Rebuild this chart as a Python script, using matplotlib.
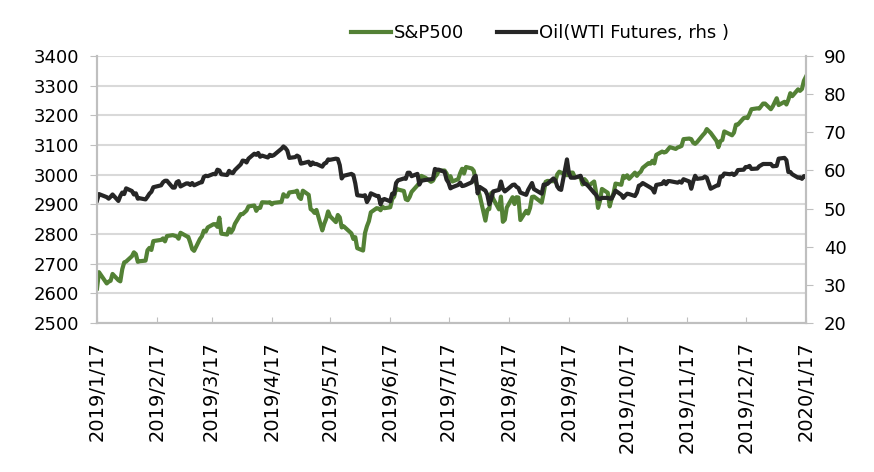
import matplotlib

matplotlib.use("Agg")
import matplotlib.pyplot as plt
import matplotlib.dates as mdates
import numpy as np
import pandas as pd

plt.rcParams["font.family"] = ["DejaVu Sans"]

# trading calendar: weekdays 2019/1/17 - 2020/1/17 minus US market holidays
HOLIDAYS = ["2019-01-21", "2019-02-18", "2019-04-19", "2019-05-27", "2019-07-04",
            "2019-09-02", "2019-11-28", "2019-12-25", "2020-01-01"]
dates = pd.bdate_range("2019-01-17", "2020-01-17")
dates = dates[~dates.isin(pd.to_datetime(HOLIDAYS))]

SPX = [
    # Jan
    2616, 2671, 2633, 2639, 2642, 2665, 2644, 2640, 2681, 2704,
    # Feb
    2707, 2725, 2738, 2732, 2706, 2708, 2710, 2745, 2753, 2746, 2776, 2780, 2785,
    2775, 2793, 2796, 2794, 2792, 2784,
    # Mar
    2804, 2793, 2790, 2771, 2749, 2743, 2783, 2792, 2811, 2808, 2822, 2833, 2833,
    2824, 2855, 2801, 2798, 2818, 2805, 2815, 2834,
    # Apr
    2867, 2867, 2873, 2879, 2893, 2896, 2878, 2888, 2888, 2907, 2906, 2907, 2900,
    2905, 2908, 2934, 2927, 2926, 2940, 2943, 2946,
    # May
    2924, 2918, 2946, 2932, 2884, 2879, 2871, 2881, 2812, 2834, 2851, 2876, 2860,
    2840, 2864, 2856, 2822, 2826, 2802, 2783, 2789, 2752,
    # Jun
    2744, 2803, 2826, 2843, 2873, 2887, 2886, 2880, 2892, 2887, 2890, 2918, 2926,
    2954, 2950, 2945, 2917, 2914, 2925, 2942,
    # Jul
    2964, 2973, 2996, 2990, 2976, 2980, 2993, 3000, 3014, 3014, 3004, 2984, 2995,
    2977, 2985, 3005, 3020, 3004, 3026, 3021, 3013, 2980,
    # Aug
    2954, 2932, 2845, 2882, 2884, 2938, 2919, 2883, 2926, 2841, 2848, 2889, 2924,
    2901, 2924, 2923, 2847, 2878, 2869, 2888, 2925, 2926,
    # Sep
    2906, 2938, 2976, 2979, 2978, 2979, 3001, 3010, 3007, 2998, 3006, 3007, 3007,
    2992, 2992, 2967, 2985, 2978, 2962, 2977,
    # Oct
    2940, 2888, 2911, 2952, 2939, 2893, 2919, 2938, 2970, 2966, 2996, 2990, 2998,
    2986, 3007, 2996, 3005, 3010, 3023, 3039, 3037, 3047, 3038,
    # Nov
    3067, 3078, 3075, 3077, 3085, 3093, 3087, 3092, 3094, 3097, 3120, 3122, 3120,
    3108, 3104, 3110, 3134, 3141, 3154, 3141,
    # Dec
    3114, 3093, 3113, 3117, 3146, 3136, 3133, 3142, 3169, 3169, 3191, 3193, 3191,
    3205, 3221, 3224, 3223, 3240, 3240, 3221, 3231,
    # Jan 2020
    3258, 3235, 3246, 3237, 3253, 3275, 3265, 3288, 3283, 3289, 3317, 3330,
]

WTI = [
    # Jan
    52.1, 53.8, 53.0, 52.6, 53.1, 53.7, 52.0, 53.3, 54.2, 53.8,
    # Feb
    55.3, 54.6, 53.7, 54.0, 52.6, 52.7, 52.4, 53.1, 53.9, 54.4, 55.6, 56.1, 56.9,
    57.3, 57.3, 55.5, 55.5, 56.9, 57.2,
    # Mar
    55.8, 56.6, 56.6, 56.2, 56.7, 56.1, 56.8, 56.9, 58.3, 58.6, 58.5, 59.1, 59.0,
    60.2, 60.0, 59.0, 58.8, 59.9, 59.4, 59.3, 60.1,
    # Apr
    61.6, 62.6, 62.5, 62.1, 63.1, 64.4, 64.1, 64.6, 63.6, 63.9, 63.4, 64.1, 63.8,
    64.0, 65.7, 66.3, 65.9, 65.2, 63.3, 63.5, 63.9,
    # May
    63.6, 61.8, 61.9, 62.3, 61.4, 62.1, 61.7, 61.7, 61.0, 61.8, 62.0, 62.9, 62.8,
    63.1, 63.0, 61.4, 57.9, 58.6, 59.1, 58.8, 56.6, 53.5,
    # Jun
    53.3, 53.5, 51.7, 52.6, 54.0, 53.3, 53.3, 51.1, 52.3, 52.5, 51.9, 53.9, 53.8,
    56.7, 57.4, 57.9, 57.8, 59.4, 59.4, 58.5,
    # Jul
    59.1, 56.3, 57.3, 57.5, 57.7, 57.8, 60.4, 60.2, 60.2, 59.6, 57.6, 56.8, 55.3,
    55.6, 56.2, 56.8, 55.9, 56.0, 56.2, 56.9, 58.1, 58.6,
    # Aug
    54.0, 55.7, 54.7, 53.6, 51.1, 52.5, 54.5, 54.9, 57.1, 55.2, 54.5, 54.9, 56.2,
    56.3, 55.7, 55.4, 54.2, 53.6, 54.9, 55.8, 56.7, 55.1,
    # Sep
    53.9, 56.3, 56.3, 56.5, 57.9, 57.4, 55.8, 55.1, 54.9, 62.9, 59.3, 58.1, 58.1,
    58.1, 58.6, 57.3, 56.5, 56.4, 55.9, 54.1,
    # Oct
    53.6, 52.6, 52.5, 52.8, 52.8, 52.6, 52.6, 53.6, 54.7, 53.6, 52.8, 53.4, 53.9,
    53.8, 53.3, 54.2, 56.0, 56.2, 56.7, 55.8, 55.5, 55.1, 54.2,
    # Nov
    56.2, 56.5, 57.2, 56.4, 57.2, 57.2, 56.9, 56.8, 57.1, 56.8, 57.7, 57.1, 55.2,
    57.1, 58.6, 57.8, 58.0, 58.4, 58.1, 55.2,
    # Dec
    56.0, 56.1, 58.4, 58.4, 59.2, 59.0, 59.2, 58.8, 59.2, 60.1, 60.2, 60.9, 60.9,
    61.2, 60.4, 60.5, 61.1, 61.7, 61.7, 61.7, 61.1,
    # Jan 2020
    61.2, 63.1, 63.3, 62.7, 59.6, 59.6, 59.0, 58.1, 58.2, 57.8, 58.5, 58.5,
]

TICK_DATES = pd.date_range("2019-01-01", "2020-01-01", freq="MS") + pd.Timedelta(days=16)
SPX_TICKS = np.arange(2500, 3401, 100)
WTI_TICKS = np.arange(20, 91, 10)

GREEN = "#538135"
BLACK = "#262626"
GRID = "#D9D9D9"
AXIS = "#BFBFBF"
FS = 13

fig = plt.figure(figsize=(8.74, 4.72), dpi=100)
ax = fig.add_axes([0.111, 0.316, 0.811, 0.565])
ax2 = ax.twinx()

l1, = ax.plot(dates, SPX, color=GREEN, lw=3.0, solid_joinstyle="round",
              label="S&P500")
l2, = ax2.plot(dates, WTI, color=BLACK, lw=3.0, solid_joinstyle="round",
               label="Oil(WTI Futures, rhs )")

ax.set_xlim(pd.Timestamp("2019-01-17"), pd.Timestamp("2020-01-17"))
ax.set_ylim(2500, 3400)
ax2.set_ylim(20, 90)
ax.set_yticks(SPX_TICKS)
ax2.set_yticks(WTI_TICKS)

ax.set_xticks(TICK_DATES)
ax.xaxis.set_major_formatter(mdates.DateFormatter("%Y/%-m/%-d"))
ax.tick_params(axis="x", direction="in", length=4, color=AXIS, labelsize=14,
               pad=13, labelrotation=90)
ax.tick_params(axis="y", direction="out", length=5, color=AXIS, labelsize=FS,
               pad=8)
ax2.tick_params(axis="y", direction="out", length=5, color=AXIS, labelsize=FS,
                pad=8)

ax.yaxis.grid(True, color=GRID, lw=1.5)
ax.set_axisbelow(True)
for a in (ax, ax2):
    a.spines["top"].set_visible(False)
    for s in ("left", "right", "bottom"):
        a.spines[s].set_color(AXIS)
        a.spines[s].set_linewidth(1.5)

fig.legend(handles=[l1, l2], loc="center", bbox_to_anchor=(0.618, 0.93), ncol=2,
           frameon=False, fontsize=FS, handlelength=2.2, handletextpad=0.15,
           columnspacing=1.8)

# date labels hang from the axis: end of the text pinned just under the tick
fig.canvas.draw()
for lab in ax.get_xticklabels():
    lab.set_rotation_mode("anchor")
    lab.set_horizontalalignment("right")
    lab.set_verticalalignment("center")

fig.savefig("out.png", dpi=100)
